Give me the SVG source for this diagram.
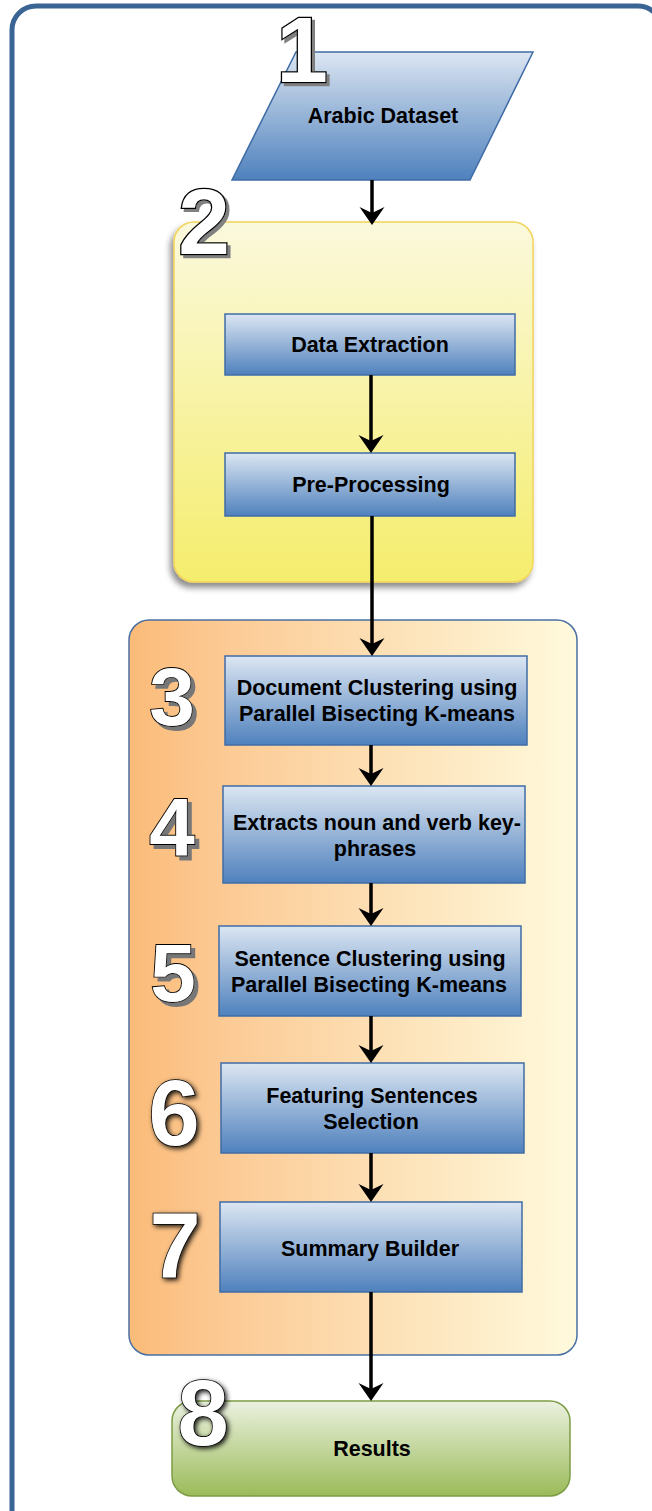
<svg xmlns="http://www.w3.org/2000/svg" width="652" height="1511" viewBox="0 0 652 1511">
<defs>
<linearGradient id="gBlue" x1="0" y1="0" x2="0" y2="1">
<stop offset="0" stop-color="#dce6f2"/>
<stop offset="0.5" stop-color="#95b3d7"/>
<stop offset="1" stop-color="#4f81bd"/>
</linearGradient>
<linearGradient id="gYellow" x1="0" y1="0" x2="0" y2="1">
<stop offset="0" stop-color="#fbf9dd"/>
<stop offset="1" stop-color="#f5ed6c"/>
</linearGradient>
<linearGradient id="gOrange" x1="0" y1="0" x2="1" y2="0">
<stop offset="0" stop-color="#fbbb78"/>
<stop offset="0.2" stop-color="#fcc993"/>
<stop offset="0.6" stop-color="#fde2b8"/>
<stop offset="1" stop-color="#fffadd"/>
</linearGradient>
<linearGradient id="gGreen" x1="0" y1="0" x2="0" y2="1">
<stop offset="0" stop-color="#ebf1e0"/>
<stop offset="1" stop-color="#9bbb59"/>
</linearGradient>
<filter id="shY" x="-10%" y="-10%" width="120%" height="120%">
<feDropShadow dx="-3" dy="5" stdDeviation="3" flood-color="#000" flood-opacity="0.45"/>
</filter>
<filter id="shA" x="-20%" y="-20%" width="140%" height="140%">
<feDropShadow dx="3" dy="3" stdDeviation="0.6" flood-color="#808080" flood-opacity="1"/>
</filter>
<filter id="shB" x="-20%" y="-20%" width="140%" height="140%">
<feDropShadow dx="4" dy="4" stdDeviation="0.6" flood-color="#777" flood-opacity="1"/>
</filter>
<filter id="glow" x="-30%" y="-30%" width="160%" height="160%">
<feDropShadow dx="2" dy="2" stdDeviation="2.5" flood-color="#000" flood-opacity="0.9"/>
</filter>
<marker id="ah" viewBox="0 -13 19 26" refX="6" refY="0" markerWidth="19" markerHeight="26" markerUnits="userSpaceOnUse" orient="auto">
<path d="M18,0 L0,-12.5 L6,0 L0,12.5 Z" fill="#000"/>
</marker>
</defs>
<style>
.box{fill:url(#gBlue);stroke:#3f6ca6;stroke-width:1.5}
.lbl{font-family:"Liberation Sans",Arial,sans-serif;font-weight:bold;font-size:21.5px;fill:#000;text-anchor:middle}
.num{font-family:"Liberation Sans",Arial,sans-serif;font-weight:bold;text-anchor:middle;fill:#fff;stroke:#000;paint-order:stroke}
.numA{stroke-width:2.6;filter:url(#shA)}
.numB{stroke-width:1.8;filter:url(#shB)}
.numC{stroke-width:1.5;filter:url(#glow)}
.conn line{stroke:#000;stroke-width:3.5;marker-end:url(#ah)}
</style>

<rect id="frame" x="12" y="6" width="650" height="1530" rx="24" fill="none" stroke="#3a6494" stroke-width="5"/>

<g id="n1">
<polygon points="296,52 533,52 470,180 232,180" fill="url(#gBlue)" stroke="#3f6ca6" stroke-width="1.5"/>
<text class="lbl" x="383" y="123">Arabic Dataset</text>
</g>

<g id="g2">
<rect x="174" y="222" width="359" height="360" rx="20" fill="url(#gYellow)" stroke="#f3d45a" stroke-width="1.5" filter="url(#shY)"/>
</g>

<g id="n2a">
<rect class="box" x="225" y="314" width="290" height="61"/>
<text class="lbl" x="370" y="352">Data Extraction</text>
</g>
<g id="n2b">
<rect class="box" x="225" y="453" width="290" height="63"/>
<text class="lbl" x="371" y="492">Pre-Processing</text>
</g>

<g id="g3">
<rect x="129" y="620" width="448" height="735" rx="20" fill="url(#gOrange)" stroke="#4a70a3" stroke-width="1.5"/>
</g>

<g id="n3">
<rect class="box" x="225" y="656" width="302" height="89"/>
<text class="lbl" x="377" y="695">Document Clustering using</text>
<text class="lbl" x="377" y="721">Parallel Bisecting K-means</text>
</g>
<g id="n4">
<rect class="box" x="223" y="786" width="302" height="97"/>
<text class="lbl" x="377" y="830">Extracts noun and verb key-</text>
<text class="lbl" x="375" y="856">phrases</text>
</g>
<g id="n5">
<rect class="box" x="219" y="926" width="302" height="90"/>
<text class="lbl" x="370" y="966">Sentence Clustering using</text>
<text class="lbl" x="369" y="992">Parallel Bisecting K-means</text>
</g>
<g id="n6">
<rect class="box" x="221" y="1063" width="303" height="90"/>
<text class="lbl" x="372" y="1103">Featuring Sentences</text>
<text class="lbl" x="371" y="1129">Selection</text>
</g>
<g id="n7">
<rect class="box" x="220" y="1202" width="302" height="90"/>
<text class="lbl" x="370" y="1256">Summary Builder</text>
</g>
<g id="n8">
<rect x="172" y="1401" width="398" height="95" rx="20" fill="url(#gGreen)" stroke="#7e9c45" stroke-width="1.5"/>
<text class="lbl" x="372" y="1456">Results</text>
</g>

<g id="connectors" class="conn">
<line x1="372" y1="180" x2="372" y2="213"/>
<line x1="371" y1="375" x2="371" y2="441"/>
<line x1="372" y1="516" x2="372" y2="644"/>
<line x1="371" y1="745" x2="371" y2="774"/>
<line x1="371" y1="883" x2="371" y2="914"/>
<line x1="371" y1="1016" x2="371" y2="1051"/>
<line x1="371" y1="1153" x2="371" y2="1190"/>
<line x1="371" y1="1292" x2="371" y2="1389"/>
</g>

<g id="numbers">
<text class="num numA" x="302" y="82" font-size="93">1</text>
<text class="num numA" x="204" y="254" font-size="93">2</text>
<text class="num numB" x="172" y="725" font-size="82">3</text>
<text class="num numB" x="172" y="855" font-size="82">4</text>
<text class="num numB" x="173" y="1001" font-size="82">5</text>
<text class="num numC" x="174" y="1145" font-size="92">6</text>
<text class="num numC" x="175" y="1277" font-size="92">7</text>
<text class="num numC" x="203" y="1445" font-size="92">8</text>
</g>
</svg>
